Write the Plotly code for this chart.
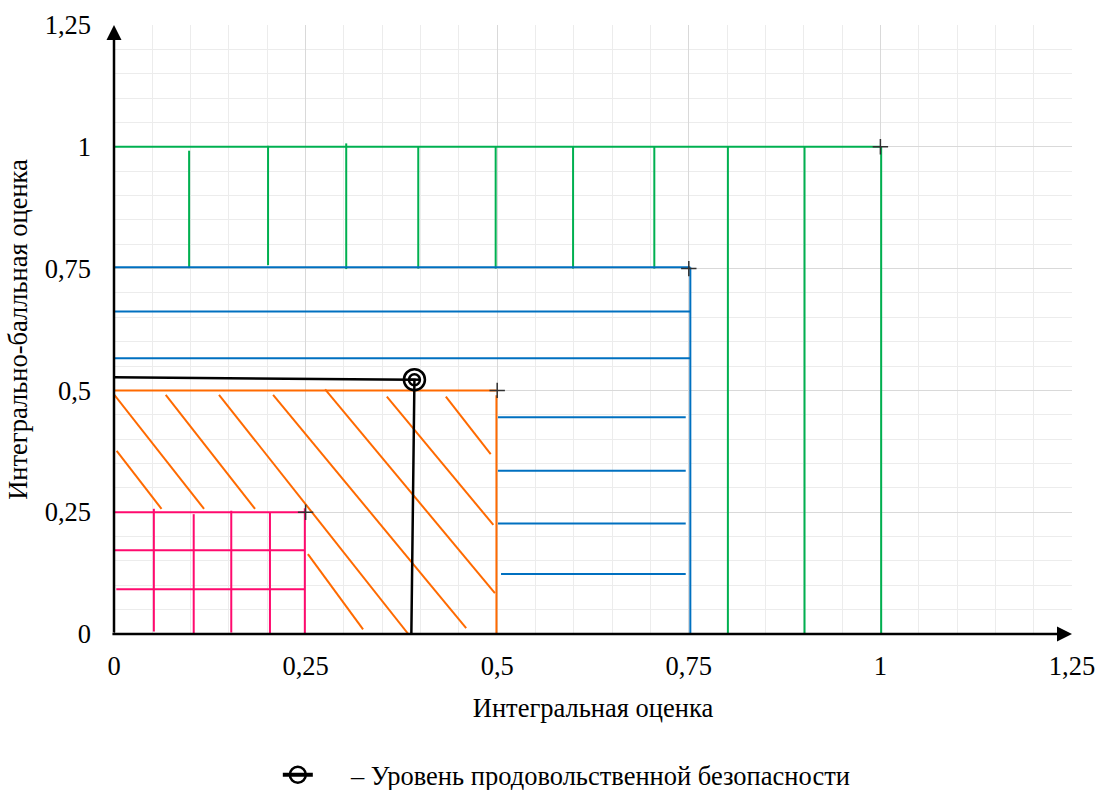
import plotly.graph_objects as go

# ---------------- data ----------------
TICK_VALS = [0, 0.25, 0.5, 0.75, 1.0, 1.25]
TICK_TEXT = ["0", "0,25", "0,5", "0,75", "1", "1,25"]

# green zone (0..1)
GREEN_TOP_Y = 1.0
GREEN_TOP_X1 = 1.0
GREEN_SHORT_X = [0.098, 0.201, 0.303, 0.397, 0.498, 0.599, 0.705]
GREEN_SHORT_Y0 = [0.751, 0.757, 0.749, 0.750, 0.750, 0.750, 0.750]
GREEN_SHORT_Y1 = [0.992, 1.002, 1.007, 1.000, 1.000, 1.000, 1.000]
GREEN_LONG_X = [0.801, 0.901, 1.001]

# blue zone (0..0.75)
BLUE_EDGE_X = 0.752
BLUE_FULL_Y = [0.753, 0.662, 0.566]
BLUE_HALF_Y = [0.445, 0.335, 0.227, 0.123]
BLUE_HALF_X0 = [0.501, 0.501, 0.501, 0.505]
BLUE_HALF_X1 = 0.746

# orange zone (0..0.5)
ORANGE_EDGE = 0.499
HATCH_X0 = [0.0035, 0.0004, 0.0675, 0.137, 0.2076, 0.2755, 0.356, 0.433, 0.253]
HATCH_Y0 = [0.376, 0.491, 0.491, 0.491, 0.491, 0.502, 0.487, 0.487, 0.164]
HATCH_X1 = [0.062, 0.1175, 0.184, 0.384, 0.4595, 0.497, 0.495, 0.4915, 0.325]
HATCH_Y1 = [0.257, 0.257, 0.257, 0.000, 0.012, 0.084, 0.224, 0.369, 0.0096]

# pink zone (0..0.25)
PINK_H_Y = [0.250, 0.172, 0.092]
PINK_H_X0 = [0.0, 0.0, 0.003]
PINK_H_X1 = 0.249
PINK_V_X = [0.052, 0.104, 0.153, 0.2035, 0.249]
PINK_V_Y0 = [0.005, -0.005, 0.003, 0.0, 0.0]
PINK_V_Y1 = [0.257, 0.246, 0.253, 0.250, 0.258]

# food security level
FOOD_X = [0.0, 0.392, 0.388]
FOOD_Y = [0.527, 0.522, 0.0]
FOOD_LABEL = "\u00a0\u00a0\u00a0\u00a0\u00a0– Уровень продовольственной безопасности"

# corner marks
CORNER_X = [0.0, 0.25, 0.5, 0.75, 1.0]
CORNER_Y = [0.0, 0.25, 0.5, 0.75, 1.0]

X_TITLE = "Интегральная оценка"
Y_TITLE = "Интегрально-балльная оценка"

GREEN = "#00b050"
BLUE = "#0070c0"
ORANGE = "#ff6a00"
PINK = "#ff0a6e"
FONT = "'Liberation Serif', 'Times New Roman', Tinos, 'DejaVu Serif', serif"
FS = 26.5


def segs(x0s, y0s, x1s, y1s):
    xs, ys = [], []
    for a, b, c, d in zip(x0s, y0s, x1s, y1s):
        xs += [a, c, None]
        ys += [b, d, None]
    return xs, ys


fig = go.Figure()

# green
gx, gy = segs([0.0], [GREEN_TOP_Y], [GREEN_TOP_X1], [GREEN_TOP_Y])
x2, y2 = segs(GREEN_SHORT_X, GREEN_SHORT_Y0, GREEN_SHORT_X, GREEN_SHORT_Y1)
x3, y3 = segs(GREEN_LONG_X, [0.0] * len(GREEN_LONG_X), GREEN_LONG_X, [GREEN_TOP_Y] * len(GREEN_LONG_X))
fig.add_trace(go.Scatter(x=gx + x2 + x3, y=gy + y2 + y3, mode="lines",
                         line=dict(color=GREEN, width=2), showlegend=False, hoverinfo="skip"))

# blue
bx, by = segs([0.0] * len(BLUE_FULL_Y), BLUE_FULL_Y, [BLUE_EDGE_X] * len(BLUE_FULL_Y), BLUE_FULL_Y)
x2, y2 = segs(BLUE_HALF_X0, BLUE_HALF_Y, [BLUE_HALF_X1] * len(BLUE_HALF_Y), BLUE_HALF_Y)
x3, y3 = segs([BLUE_EDGE_X], [BLUE_FULL_Y[0]], [BLUE_EDGE_X], [0.0])
fig.add_trace(go.Scatter(x=bx + x2 + x3, y=by + y2 + y3, mode="lines",
                         line=dict(color=BLUE, width=2), showlegend=False, hoverinfo="skip"))

# orange
ox, oy = segs([0.0, ORANGE_EDGE], [0.5, 0.49], [ORANGE_EDGE, ORANGE_EDGE], [0.5, 0.0])
x2, y2 = segs(HATCH_X0, HATCH_Y0, HATCH_X1, HATCH_Y1)
fig.add_trace(go.Scatter(x=ox + x2, y=oy + y2, mode="lines",
                         line=dict(color=ORANGE, width=2), showlegend=False, hoverinfo="skip"))

# pink
px_, py_ = segs(PINK_H_X0, PINK_H_Y, [PINK_H_X1] * len(PINK_H_Y), PINK_H_Y)
x2, y2 = segs(PINK_V_X, PINK_V_Y0, PINK_V_X, PINK_V_Y1)
fig.add_trace(go.Scatter(x=px_ + x2, y=py_ + y2, mode="lines",
                         line=dict(color=PINK, width=2), showlegend=False, hoverinfo="skip"))

# corner crosses
fig.add_trace(go.Scatter(x=CORNER_X, y=CORNER_Y, mode="markers",
                         marker=dict(symbol="cross-thin", size=11, line=dict(color="#303030", width=1.5)),
                         showlegend=False, hoverinfo="skip"))

# food security line
fig.add_trace(go.Scatter(x=FOOD_X, y=FOOD_Y, mode="lines",
                         line=dict(color="black", width=2.5), showlegend=False, hoverinfo="skip"))
fig.add_trace(go.Scatter(x=[FOOD_X[1]], y=[FOOD_Y[1]], mode="markers",
                         marker=dict(symbol="circle-open", size=11, color="black",
                                     line=dict(color="black", width=2.5)),
                         showlegend=False, hoverinfo="skip"))
fig.add_trace(go.Scatter(x=[FOOD_X[1]], y=[FOOD_Y[1]], mode="markers",
                         marker=dict(symbol="line-ew", size=8, color="black",
                                     line=dict(color="black", width=2.5)),
                         showlegend=False, hoverinfo="skip"))
fig.add_trace(go.Scatter(x=[FOOD_X[1]], y=[FOOD_Y[1]], mode="lines+markers", name=FOOD_LABEL,
                         line=dict(color="black", width=4),
                         marker=dict(symbol="circle-open", size=21, color="black",
                                     line=dict(color="black", width=2.5)),
                         showlegend=True, hoverinfo="skip"))

# axes arrows
fig.add_annotation(x=1.25, y=0, ax=-0.004, ay=0, xref="x", yref="y", axref="x", ayref="y",
                   showarrow=True, arrowhead=2, arrowsize=1.2, arrowwidth=2.5, arrowcolor="black", text="")
fig.add_annotation(x=0, y=1.25, ax=0, ay=0, xref="x", yref="y", axref="x", ayref="y",
                   showarrow=True, arrowhead=2, arrowsize=1.2, arrowwidth=2.5, arrowcolor="black", text="")

axis_common = dict(
    range=[0, 1.25],
    tickvals=TICK_VALS,
    ticktext=TICK_TEXT,
    showgrid=True,
    gridcolor="#d9d9d9",
    gridwidth=1.3,
    zeroline=False,
    showline=False,
    ticks="",
    tickfont=dict(family=FONT, size=FS, color="black"),
    minor=dict(dtick=0.05, tick0=0, showgrid=True, gridcolor="#ececec", gridwidth=1.3),
    automargin=False,
)

fig.update_layout(
    width=1097,
    height=790,
    margin=dict(l=114, r=25, t=25, b=156, autoexpand=False),
    paper_bgcolor="white",
    plot_bgcolor="white",
    font=dict(family=FONT, size=FS, color="black"),
    xaxis=dict(**axis_common, ticklabelstandoff=13,
               title=dict(text=X_TITLE, standoff=18, font=dict(family=FONT, size=FS, color="black"))),
    yaxis=dict(**axis_common, ticklabelstandoff=22,
               title=dict(text=Y_TITLE, standoff=9, font=dict(family=FONT, size=FS, color="black"))),
    legend=dict(orientation="h", x=0.171, xanchor="left", y=-0.2315, yanchor="middle",
                font=dict(family=FONT, size=FS, color="black"), bgcolor="rgba(0,0,0,0)",
                itemsizing="trace"),
    showlegend=True,
)

# remove the default page margin so the figure sits at the window's top-left corner
fig.write_html(
    "out.html",
    config={"displayModeBar": False},
    post_script="document.body.style.margin='0';document.body.style.overflow='hidden';",
)
